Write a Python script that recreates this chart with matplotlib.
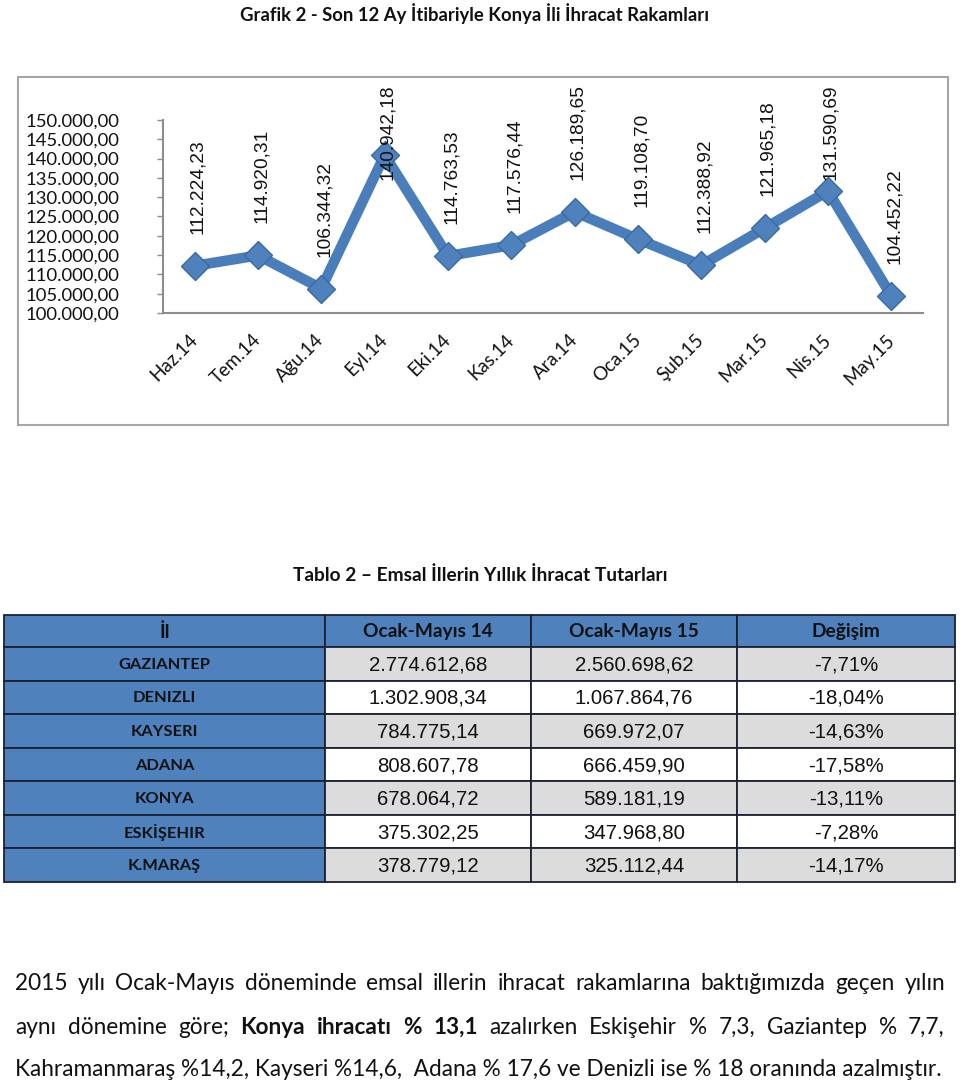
import matplotlib
matplotlib.use("Agg")
import matplotlib.pyplot as plt
import matplotlib.transforms as mtransforms
from matplotlib.patches import Rectangle

plt.rcParams['font.family'] = ['Lato', 'DejaVu Sans']

months = ['Haz.14', 'Tem.14', 'Ağu.14', 'Eyl.14', 'Eki.14', 'Kas.14',
          'Ara.14', 'Oca.15', 'Şub.15', 'Mar.15', 'Nis.15', 'May.15']
exports = [112224.23, 114920.31, 106344.32, 140942.18, 114763.53, 117576.44,
           126189.65, 119108.70, 112388.92, 121965.18, 131590.69, 104452.22]
yticks = list(range(100000, 150001, 5000))

provinces = ['GAZIANTEP', 'DENIZLI', 'KAYSERI', 'ADANA', 'KONYA', 'ESKİŞEHIR', 'K.MARAŞ']
jan_may_14 = ['2.774.612,68', '1.302.908,34', '784.775,14', '808.607,78',
              '678.064,72', '375.302,25', '378.779,12']
jan_may_15 = ['2.560.698,62', '1.067.864,76', '669.972,07', '666.459,90',
              '589.181,19', '347.968,80', '325.112,44']
change = ['-7,71%', '-18,04%', '-14,63%', '-17,58%', '-13,11%', '-7,28%', '-14,17%']
headers = ['İl', 'Ocak-Mayıs 14', 'Ocak-Mayıs 15', 'Değişim']

paragraph = [
    [('2015', 0), ('yılı', 0), ('Ocak-Mayıs', 0), ('döneminde', 0), ('emsal', 0),
     ('illerin', 0), ('ihracat', 0), ('rakamlarına', 0), ('baktığımızda', 0),
     ('geçen', 0), ('yılın', 0)],
    [('aynı', 0), ('dönemine', 0), ('göre;', 0), ('Konya', 1), ('ihracatı', 1),
     ('%', 1), ('13,1', 1), ('azalırken', 0), ('Eskişehir', 0), ('%', 0), ('7,3,', 0),
     ('Gaziantep', 0), ('%', 0), ('7,7,', 0)],
    [('Kahramanmaraş %14,2, Kayseri %14,6,  Adana % 17,6 ve Denizli ise % 18 oranında azalmıştır.', 0)],
]

W, H = 960, 1086
fig = plt.figure(figsize=(W / 100, H / 100), dpi=100)


def fx(x):
    return x / W


def fy(y):
    return 1 - y / H


def fmt(v):
    s = f"{v:,.2f}"
    return s.replace(',', 'X').replace('.', ',').replace('X', '.')


# page title
fig.text(fx(475), fy(14), 'Grafik 2 - Son 12 Ay İtibariyle Konya İli İhracat Rakamları',
         ha='center', va='center', fontsize=13.3, fontweight='bold', color='#111111')

# chart frame
fig.patches.append(Rectangle((fx(18), fy(425)), fx(948) - fx(18), fy(77) - fy(425),
                             transform=fig.transFigure, fill=False,
                             edgecolor='#A6A6A6', linewidth=1.5))

ax = fig.add_axes([fx(163), fy(313), fx(923) - fx(163), fy(120) - fy(313)])
ax.set_xlim(-0.5, len(months) - 0.5)
ax.set_ylim(100000, 150000)
ax.plot(range(len(months)), exports, color='#4A7EBB', linewidth=7.5,
        solid_joinstyle='miter', zorder=2)
ax.plot(range(len(months)), exports, linestyle='none', marker='D', markersize=14,
        markerfacecolor='#4F81BD', markeredgecolor='#3A6AA3', markeredgewidth=1, zorder=3)

ax.set_yticks(yticks)
ax.set_yticklabels([fmt(t) for t in yticks])
ax.tick_params(axis='y', direction='out', length=4.3, width=1, color='#8C8C8C',
               pad=27, labelsize=13.3, labelcolor='#111111')
ax.set_xticks(range(len(months)))
ax.set_xticklabels(months, rotation=45, ha='right')
ax.tick_params(axis='x', length=0, pad=13, labelsize=13.5, labelcolor='#111111')
shift = mtransforms.ScaledTranslation(6 / 100, 0, fig.dpi_scale_trans)
for lab in ax.get_xticklabels():
    lab.set_transform(lab.get_transform() + shift)
for side in ['top', 'right']:
    ax.spines[side].set_visible(False)
for side in ['left', 'bottom']:
    ax.spines[side].set_color('#8C8C8C')
    ax.spines[side].set_linewidth(1.5)
ax.patch.set_alpha(0)

# data labels, vertical above the points, kept inside the frame
renderer = fig.canvas.get_renderer()
top_limit = H - 84
for i, v in enumerate(exports):
    px, py = ax.transData.transform((i, v))
    t = fig.text(0, 0, fmt(v), rotation=90, ha='center', va='bottom',
                 fontsize=13.8, family=['Liberation Sans', 'DejaVu Sans'], color='#111111',
                 transform=None)
    L = t.get_window_extent(renderer).height
    yb = py + 32
    if yb + L > top_limit:
        yb = top_limit - L
    t.set_position((px + 3, yb))

# table title
fig.text(fx(480), fy(575), 'Tablo 2 – Emsal İllerin Yıllık İhracat Tutarları',
         ha='center', va='center', fontsize=13.8, fontweight='bold', color='#111111')

blue = '#4F81BD'
edge = '#1C2233'
cols = [4, 325, 531, 737, 955]
top, head_h = 615, 32
row_h = (882 - 647) / len(provinces)


def cell(x0, x1, y0, y1, color):
    fig.patches.append(Rectangle((fx(x0), fy(y1)), fx(x1) - fx(x0), fy(y0) - fy(y1),
                                 transform=fig.transFigure, facecolor=color,
                                 edgecolor=edge, linewidth=1.3))


for j, h in enumerate(headers):
    cell(cols[j], cols[j + 1], top, top + head_h, blue)
    fig.text(fx((cols[j] + cols[j + 1]) / 2), fy(top + head_h / 2 + 1), h,
             ha='center', va='center', fontsize=13.8, fontweight='bold', color='#111111')

for i, name in enumerate(provinces):
    y0 = top + head_h + i * row_h
    y1 = y0 + row_h
    yc = fy((y0 + y1) / 2 + 1)
    bg = '#DCDCDC' if i % 2 == 0 else '#FFFFFF'
    cell(cols[0], cols[1], y0, y1, blue)
    fig.text(fx((cols[0] + cols[1]) / 2), yc, name, ha='center', va='center',
             fontsize=11.8, fontweight='bold', color='#111111')
    for j, vals in enumerate([jan_may_14, jan_may_15, change]):
        cell(cols[j + 1], cols[j + 2], y0, y1, bg)
        fig.text(fx((cols[j + 1] + cols[j + 2]) / 2), yc, vals[i], ha='center',
                 va='center', fontsize=14.7, family=['Liberation Sans', 'DejaVu Sans'],
                 color='#111111')

# justified paragraph
left, right = 15, 945
line_y = [983, 1027, 1070]
for k, words in enumerate(paragraph):
    texts = []
    for w, b in words:
        t = fig.text(0, 0, w, fontsize=16.3, fontweight='bold' if b else 'normal',
                     color='#111111', va='center', ha='left', transform=None)
        texts.append(t)
    widths = [t.get_window_extent(renderer).width for t in texts]
    if len(texts) > 1 and k < len(paragraph) - 1:
        gap = (right - left - sum(widths)) / (len(texts) - 1)
    else:
        gap = 0
    x = left
    for t, wd in zip(texts, widths):
        t.set_position((x, H - line_y[k]))
        x += wd + gap

fig.savefig('out.png', dpi=100)
